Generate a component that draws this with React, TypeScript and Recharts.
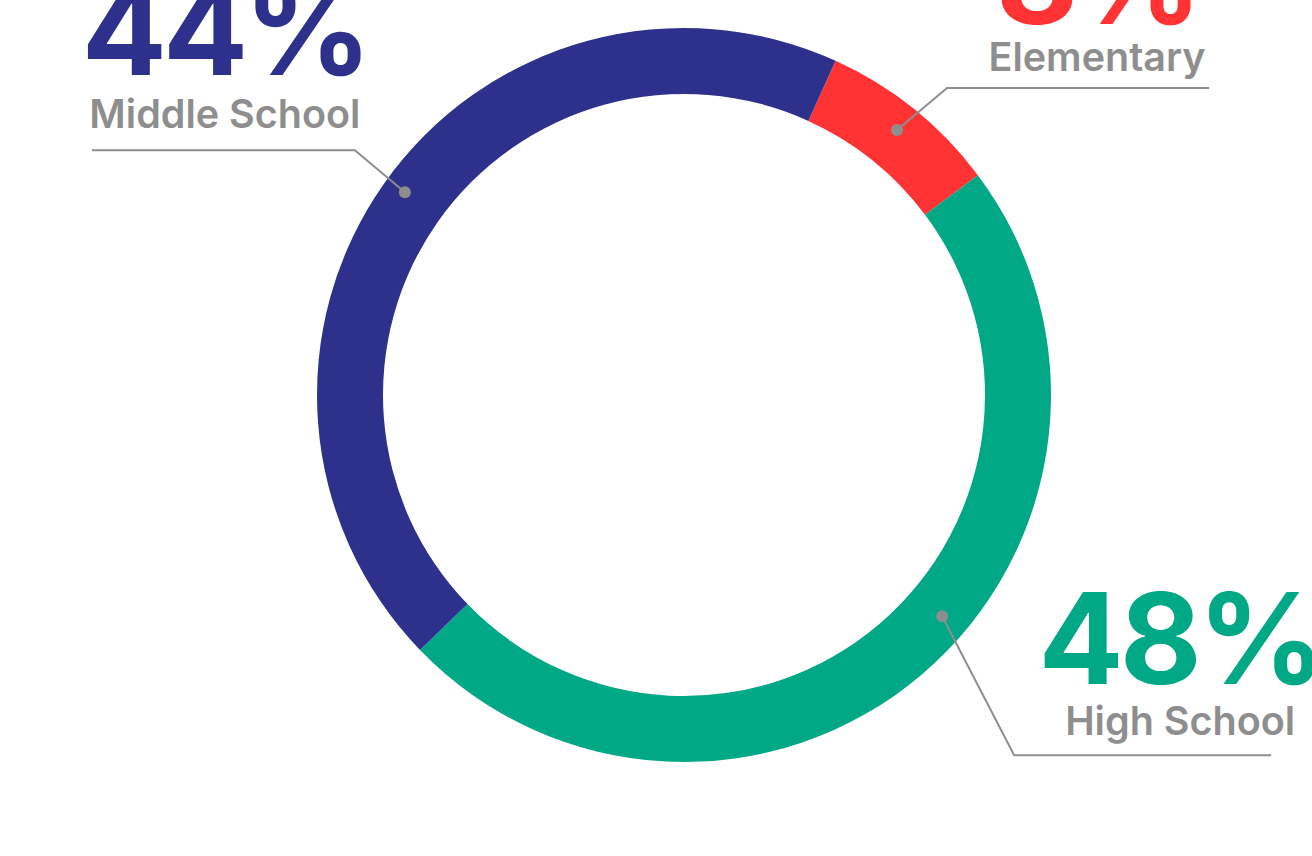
import { PieChart, Pie, Cell } from "recharts";

// clockwise from the top-right: Elementary, High School, Middle School
const categories = ["Elementary", "High School", "Middle School"];
const shares = [8, 48, 44];
const colors = ["#FF3334", "#00A886", "#2E318B"];

const GRAY = "#8E8E8E";
const FONT = "Inter, Lato, sans-serif";

const data = categories.map((name, i) => ({ name, value: shares[i], color: colors[i] }));

/** Leader-line layout per slice, offsets relative to the dot on the ring */
const LABEL_LAYOUT: Record<
  string,
  { angleShift: number; rOffset: number; elbow: [number, number]; lineEnd: number; textX: number; nameY: number; pctY: number }
> = {
  Elementary: { angleShift: 0, rOffset: 6, elbow: [50, -42], lineEnd: 312, textX: 200, nameY: -59, pctY: -106 },
  "High School": { angleShift: 9, rOffset: 6, elbow: [72, 139], lineEnd: 329, textX: 238, nameY: 119, pctY: 68 },
  "Middle School": { angleShift: -0.8, rOffset: 11, elbow: [-50, -42], lineEnd: -313, textX: -180, nameY: -64, pctY: -117 },
};

const RAD = Math.PI / 180;

function SliceLabel(props: any) {
  const { cx, cy, midAngle, innerRadius, outerRadius, payload } = props;
  const layout = LABEL_LAYOUT[payload.name];
  if (!layout) return null;
  const angle = midAngle + layout.angleShift;
  const r = (innerRadius + outerRadius) / 2 + layout.rOffset;
  const x0 = cx + r * Math.cos(-angle * RAD);
  const y0 = cy + r * Math.sin(-angle * RAD);
  const x1 = x0 + layout.elbow[0];
  const y1 = y0 + layout.elbow[1];
  const x2 = x0 + layout.lineEnd;
  const tx = x0 + layout.textX;
  return (
    <g>
      <polyline
        points={`${x0},${y0} ${x1},${y1} ${x2},${y1}`}
        fill="none"
        stroke={GRAY}
        strokeWidth={2}
      />
      <circle cx={x0} cy={y0} r={6} fill={GRAY} />
      <text
        x={tx}
        y={y0 + layout.pctY}
        textAnchor="middle"
        fill={payload.color}
        fontFamily={FONT}
        fontWeight={700}
        fontSize={126}
        letterSpacing={-4}
      >
        {`${payload.value}%`}
      </text>
      <text
        x={tx}
        y={y0 + layout.nameY}
        textAnchor="middle"
        fill={GRAY}
        fontFamily={FONT}
        fontWeight={600}
        fontSize={39.5}
      >
        {payload.name}
      </text>
    </g>
  );
}

export default function App() {
  return (
    <div style={{ position: "absolute", left: 0, top: 0, width: 1312, height: 856, background: "#fff" }}>
      <PieChart width={1312} height={856} margin={{ top: 0, right: 0, bottom: 0, left: 0 }}>
        <Pie
          data={data}
          dataKey="value"
          nameKey="name"
          cx={684}
          cy={395}
          innerRadius={301}
          outerRadius={367}
          startAngle={65.6}
          endAngle={-294.4}
          stroke="none"
          labelLine={false}
          label={SliceLabel}
          isAnimationActive={false}
        >
          {data.map((d) => (
            <Cell key={d.name} fill={d.color} />
          ))}
        </Pie>
      </PieChart>
    </div>
  );
}
